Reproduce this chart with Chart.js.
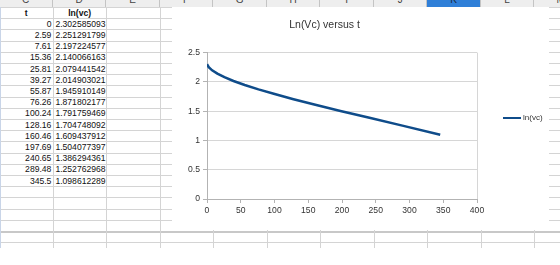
<!DOCTYPE html>
<html>
<head>
<meta charset="utf-8">
<script src="https://cdn.jsdelivr.net/npm/chart.js@4/dist/chart.umd.min.js"></script>
<style>
  html,body{margin:0;padding:0;background:#fff;}
  body{width:560px;height:265px;overflow:hidden;position:relative;font-family:"Liberation Sans",Arial,sans-serif;}
  #sheet{position:absolute;left:0;top:0;width:560px;height:248px;overflow:hidden;}
  .hline{position:absolute;left:0;width:560px;height:1px;background:#d4d4d4;}
  .vline{position:absolute;top:0;width:1px;height:248px;background:#d4d4d4;}
  .colhead{position:absolute;top:-7px;height:14px;line-height:14px;text-align:center;font-size:10px;color:#444;background:#eeeeee;border-right:1px solid #c4c4c4;box-sizing:border-box;}
  .colhead.sel{background:#2f7fd8;color:#1b2b44;}
  .cell{position:absolute;height:11px;line-height:11px;font-size:8.6px;color:#111;white-space:nowrap;}
  .num{text-align:right;}
  .bold{font-weight:bold;text-align:center;}
  #chartBox{position:absolute;left:172px;top:7px;width:377px;height:223px;background:#fff;}
  #legend{position:absolute;left:503px;top:113px;font-size:8px;color:#333;}
  #legend span.ln{display:inline-block;width:18px;height:2px;background:#0f4c8a;vertical-align:middle;margin-right:2px;}
</style>
</head>
<body>
<div id="sheet"></div>
<div id="chartBox"><canvas id="chart"></canvas></div>
<div id="legend"><span class="ln"></span>ln(vc)</div>
<script>
// spreadsheet data (columns C and D)
const tValues = [0, 2.59, 7.61, 15.36, 25.81, 39.27, 55.87, 76.26, 100.24, 128.16, 160.46, 197.69, 240.65, 289.48, 345.5];
const lnVc = [2.302585093, 2.251291799, 2.197224577, 2.140066163, 2.079441542, 2.014903021, 1.945910149, 1.871802177, 1.791759469, 1.704748092, 1.609437912, 1.504077397, 1.386294361, 1.252762968, 1.098612289];
const headers = ['t', 'ln(vc)'];
const colLetters = ['C','D','E','F','G','H','I','J','K','L','M'];
const seriesLabel = 'ln(vc)';
const chartTitle = 'Ln(Vc) versus t';
const xTicks = { min: 0, max: 400, step: 50 };
const yTicks = { min: 0, max: 2.5, step: 0.5 };

// sheet geometry
const colLeft = -0.6, colW = 53.5, rowTop = 7, rowH = 11.2;
const sheet = document.getElementById('sheet');

function addEl(cls, style, text){
  const d = document.createElement('div');
  d.className = cls;
  Object.assign(d.style, style);
  if(text !== undefined) d.textContent = text;
  sheet.appendChild(d);
  return d;
}

// column header strip (mostly scrolled off the top)
colLetters.forEach((c, i) => {
  addEl('colhead' + (c === 'K' ? ' sel' : ''), { left: (colLeft + i*colW) + 'px', width: colW + 'px' }, c);
});

// row lines + column lines
for(let r=0; rowTop + r*rowH <= 243; r++){
  const y = Math.round(rowTop + r*rowH);
  addEl('hline', { top: y + 'px', background: y === 231 ? '#c8c8c8' : '#d4d4d4', height: y === 231 ? '2px' : '1px' });
}
for(let i=1; i<colLetters.length; i++){
  addEl('vline', { left: Math.round(colLeft + i*colW) + 'px', top: '7px' });
}
addEl('vline', { left: '0px', top: '7px', background: '#c9d5e8' });

// header row cells
addEl('cell bold', { left: colLeft + 'px', width: colW + 'px', top: (rowTop + 0.5) + 'px' }, headers[0]);
addEl('cell bold', { left: (colLeft + colW) + 'px', width: colW + 'px', top: (rowTop + 0.5) + 'px' }, headers[1]);

// data rows
tValues.forEach((t, i) => {
  const top = rowTop + (i+1)*rowH + 0.5;
  addEl('cell num', { left: colLeft + 'px', width: (colW - 1.5) + 'px', top: top + 'px' }, String(t));
  addEl('cell', { left: (colLeft + colW + 2.5) + 'px', top: top + 'px' }, String(lnVc[i]));
});

// chart
const lineColor = '#0f4c8a';
const gridColor = '#d6d6d6';
const axisColor = '#b3b3b3';
const tickFont = { family: '"Liberation Sans", Arial, sans-serif', size: 8.6 };

new Chart(document.getElementById('chart').getContext('2d'), {
  type: 'scatter',
  data: {
    datasets: [{
      label: seriesLabel,
      data: tValues.map((t, i) => ({ x: t, y: lnVc[i] })),
      showLine: true,
      borderColor: lineColor,
      backgroundColor: lineColor,
      borderWidth: 2.5,
      pointRadius: 0,
      tension: 0
    }]
  },
  options: {
    responsive: true,
    maintainAspectRatio: false,
    animation: false,
    layout: { padding: { left: 0, right: 72, top: 0, bottom: 0 } },
    plugins: {
      legend: { display: false },
      tooltip: { enabled: false },
      title: {
        display: true,
        text: chartTitle,
        color: '#333',
        font: { family: '"Liberation Sans", Arial, sans-serif', size: 10.5, weight: 'normal' },
        padding: { top: 12, bottom: 21 }
      }
    },
    scales: {
      x: {
        type: 'linear',
        min: xTicks.min, max: xTicks.max,
        ticks: { stepSize: xTicks.step, color: '#333', font: tickFont, padding: 2, maxRotation: 0 },
        grid: {
          color: ctx => (ctx.tick && ctx.tick.value === xTicks.max) ? gridColor : 'rgba(0,0,0,0)',
          tickColor: axisColor,
          tickLength: 4
        },
        border: { color: axisColor },
        afterFit: s => { s.height = 31; }
      },
      y: {
        min: yTicks.min, max: yTicks.max,
        ticks: {
          stepSize: yTicks.step, color: '#333', font: tickFont, padding: 3,
          callback: v => String(Number(v.toFixed(1)))
        },
        grid: { color: gridColor, tickColor: axisColor, tickLength: 4 },
        border: { color: axisColor },
        afterFit: s => { s.width = 35; }
      }
    }
  }
});
</script>
</body>
</html>
